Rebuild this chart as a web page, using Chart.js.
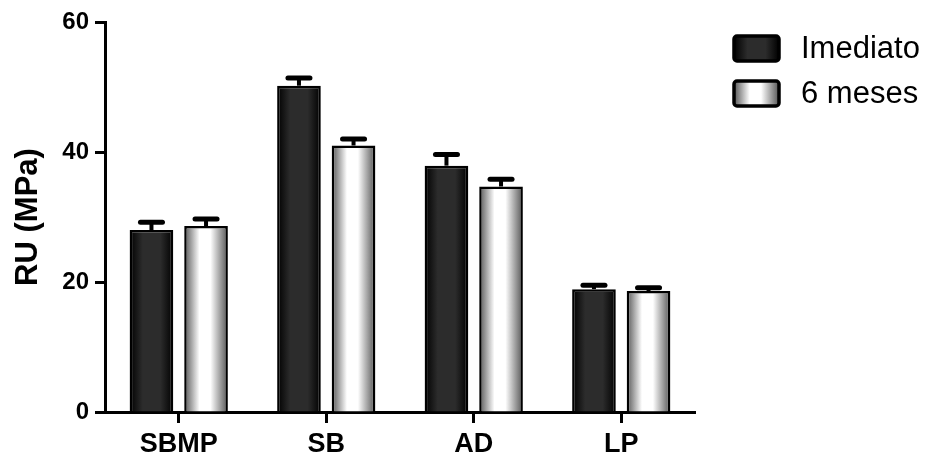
<!DOCTYPE html>
<html>
<head>
<meta charset="utf-8">
<script src="https://cdn.jsdelivr.net/npm/chart.js@4/dist/chart.umd.min.js"></script>
<style>
  html, body { margin: 0; padding: 0; background: #fff; }
  canvas { display: block; }
</style>
</head>
<body>
<canvas id="c" width="926" height="454"></canvas>
<script>
// ── Data ─────────────────────────────────────────────────────────────
const categories   = ['SBMP', 'SB', 'AD', 'LP'];
const seriesNames  = ['Imediato', '6 meses'];
const imediato     = [28.0, 50.2, 37.9, 18.9];
const imediatoErr  = [1.2, 1.2, 1.7, 0.6];
const seisMeses    = [28.6, 41.0, 34.7, 18.6];
const seisMesesErr = [1.1, 1.0, 1.1, 0.5];
const yTicks       = [0, 20, 40, 60];

const CAT_PCT = 0.74, BAR_PCT = 0.8;
const FONT = "'Liberation Sans', Arial, sans-serif";

// gradient stops per series: dark bar and light bar
const GRAD = [
  [[0, '#000'], [0.3, '#2c2c2c'], [0.7, '#2c2c2c'], [1, '#000']],
  [[0, '#555'], [0.35, '#fff'], [0.6, '#fff'], [1, '#555']],
];

function makeGrad(ctx, x0, x1, di) {
  const g = ctx.createLinearGradient(x0, 0, x1, 0);
  GRAD[di].forEach(s => g.addColorStop(s[0], s[1]));
  return g;
}

// Bar fill: horizontal gradient computed from the category scale
function barFill(c) {
  const chart = c.chart;
  const xs = chart.scales.x;
  const fallback = c.datasetIndex === 1 ? '#ddd' : '#2c2c2c';
  if (!xs || c.dataIndex === undefined || !(xs.right > xs.left)) return fallback;
  const catW = (xs.right - xs.left) / categories.length;
  const slot = catW * CAT_PCT / 2;
  const cx = xs.getPixelForValue(c.dataIndex) + (c.datasetIndex - 0.5) * slot;
  const w = slot * BAR_PCT;
  if (!isFinite(cx) || !isFinite(w) || w <= 0) return fallback;
  return makeGrad(chart.ctx, cx - w / 2, cx + w / 2, c.datasetIndex);
}

const barStyle = {
  categoryPercentage: CAT_PCT,
  barPercentage: BAR_PCT,
  backgroundColor: barFill,
  borderColor: '#000',
  borderWidth: 2.5,
};

// Plugin: upper error bars (Prism style)
const errorBars = {
  id: 'errorBars',
  afterDatasetsDraw(chart) {
    const { ctx, scales } = chart;
    const errs = [imediatoErr, seisMesesErr];
    chart.data.datasets.forEach((ds, di) => {
      chart.getDatasetMeta(di).data.forEach((bar, i) => {
        const top = scales.y.getPixelForValue(ds.data[i] + errs[di][i]);
        ctx.save();
        ctx.strokeStyle = '#000';
        ctx.lineWidth = 4;
        ctx.beginPath();
        ctx.moveTo(bar.x, bar.y);
        ctx.lineTo(bar.x, top);
        ctx.stroke();
        ctx.lineWidth = 5;
        ctx.lineCap = 'round';
        ctx.beginPath();
        ctx.moveTo(bar.x - 11, top);
        ctx.lineTo(bar.x + 11, top);
        ctx.stroke();
        ctx.restore();
      });
    });
  },
};

// Plugin: legend on the right with gradient swatches
const sideLegend = {
  id: 'sideLegend',
  afterDraw(chart) {
    const ctx = chart.ctx;
    seriesNames.forEach((name, i) => {
      const x = 734, y = 36 + i * 45, w = 45, h = 25;
      ctx.save();
      ctx.beginPath();
      ctx.roundRect(x, y, w, h, 3);
      ctx.fillStyle = makeGrad(ctx, x, x + w, i);
      ctx.fill();
      ctx.lineWidth = 3.5;
      ctx.strokeStyle = '#000';
      ctx.stroke();
      ctx.fillStyle = '#000';
      ctx.font = '31px ' + FONT;
      ctx.textBaseline = 'middle';
      ctx.textAlign = 'left';
      ctx.fillText(name, 801, y + h / 2 + 1);
      ctx.restore();
    });
  },
};

new Chart(document.getElementById('c').getContext('2d'), {
  type: 'bar',
  data: {
    labels: categories,
    datasets: [
      { label: seriesNames[0], data: imediato, ...barStyle },
      { label: seriesNames[1], data: seisMeses, ...barStyle },
    ],
  },
  options: {
    responsive: false,
    animation: false,
    layout: { padding: { left: 0, top: 22, right: 231, bottom: 0 } },
    plugins: { legend: { display: false }, tooltip: { enabled: false }, colors: { enabled: false } },
    scales: {
      x: {
        afterFit: s => { s.height = 42; },
        grid: { offset: false, drawOnChartArea: false, drawTicks: true, tickLength: 11, tickColor: '#000', tickWidth: 3 },
        border: { display: true, color: '#000', width: 3 },
        ticks: { color: '#000', padding: 5, font: { family: FONT, size: 27, weight: 'bold' } },
      },
      y: {
        min: 0, max: 60,
        afterFit: s => { s.width = 105; },
        afterBuildTicks: s => { s.ticks = yTicks.map(v => ({ value: v })); },
        grid: { drawOnChartArea: false, drawTicks: true, tickLength: 10, tickColor: '#000', tickWidth: 3 },
        border: { display: true, color: '#000', width: 3 },
        ticks: { color: '#000', padding: 6, font: { family: FONT, size: 24, weight: 'bold' } },
        title: {
          display: true, text: 'RU (MPa)', color: '#000',
          padding: { top: 10, bottom: 0 },
          font: { family: FONT, size: 31, weight: 'bold', lineHeight: 1.2 },
        },
      },
    },
  },
  plugins: [errorBars, sideLegend],
});
</script>
</body>
</html>
